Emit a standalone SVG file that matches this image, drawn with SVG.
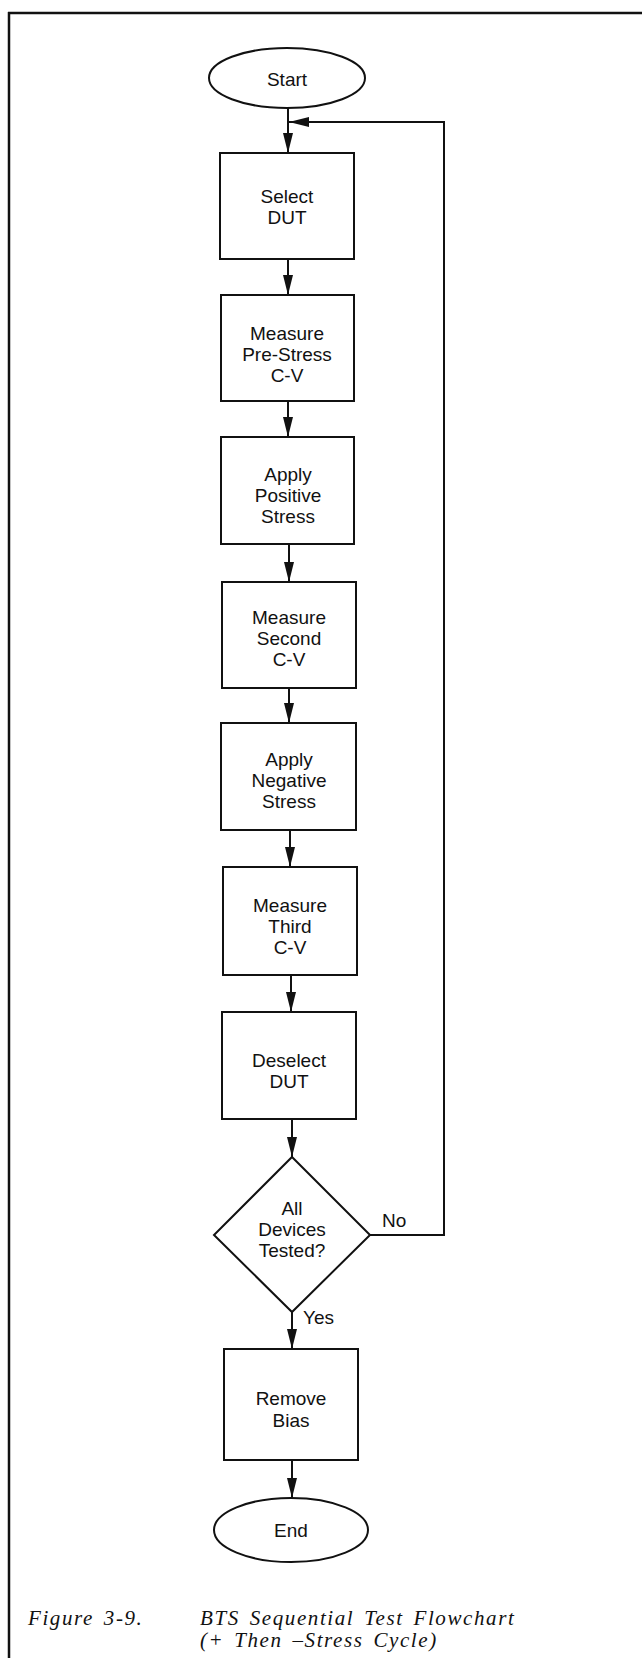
<svg xmlns="http://www.w3.org/2000/svg" width="642" height="1658" viewBox="0 0 642 1658">
<style>
.box{fill:#fff;stroke:#111;stroke-width:2}
.t{font-family:"Liberation Sans",Arial,sans-serif;font-size:19px;fill:#111;text-anchor:middle}
.lbl{font-family:"Liberation Sans",Arial,sans-serif;font-size:19px;fill:#111}
.cap{font-family:"Liberation Serif","Times New Roman",serif;font-style:italic;font-size:21px;fill:#111;letter-spacing:1.6px;word-spacing:3px}
.c{fill:none;stroke:#111;stroke-width:2}
.frame{fill:none;stroke:#111;stroke-width:2.5}
</style>
<defs>
<marker id="ah" viewBox="0 0 20 10" refX="20" refY="5" markerWidth="20" markerHeight="10" markerUnits="userSpaceOnUse" orient="auto">
<path d="M0,0 L20,5 L0,10 z" fill="#111"/>
</marker>
</defs>
<rect width="642" height="1658" fill="#fff"/>
<g id="frame">
<path class="frame" d="M8,13 H642"/>
<path class="frame" d="M9,12 V1658"/>
</g>
<g id="connectors">
<path class="c" d="M288,108 V153" marker-end="url(#ah)"/>
<path class="c" d="M288,259 V295" marker-end="url(#ah)"/>
<path class="c" d="M288,401 V437" marker-end="url(#ah)"/>
<path class="c" d="M289,544 V582" marker-end="url(#ah)"/>
<path class="c" d="M289,688 V723" marker-end="url(#ah)"/>
<path class="c" d="M290,830 V867" marker-end="url(#ah)"/>
<path class="c" d="M291,975 V1012" marker-end="url(#ah)"/>
<path class="c" d="M292,1119 V1157" marker-end="url(#ah)"/>
<path class="c" d="M292,1312 V1349" marker-end="url(#ah)"/>
<path class="c" d="M292,1460 V1498" marker-end="url(#ah)"/>
<path class="c" d="M370,1235 H444 V122 H289" marker-end="url(#ah)" stroke-width="1.8"/>
<text class="lbl" x="382" y="1227">No</text>
<text class="lbl" x="303" y="1324">Yes</text>
</g>
<g id="start">
<ellipse class="box" cx="287" cy="78" rx="78" ry="30"/>
<text class="t" x="287" y="86">Start</text>
</g>
<g id="select">
<rect class="box" x="220" y="153" width="134" height="106"/>
<text class="t" x="287" y="203">Select</text>
<text class="t" x="287" y="224">DUT</text>
</g>
<g id="measure-pre">
<rect class="box" x="221" y="295" width="133" height="106"/>
<text class="t" x="287" y="340">Measure</text>
<text class="t" x="287" y="361">Pre-Stress</text>
<text class="t" x="287" y="382">C-V</text>
</g>
<g id="apply-pos">
<rect class="box" x="221" y="437" width="133" height="107"/>
<text class="t" x="288" y="481">Apply</text>
<text class="t" x="288" y="502">Positive</text>
<text class="t" x="288" y="523">Stress</text>
</g>
<g id="measure-second">
<rect class="box" x="222" y="582" width="134" height="106"/>
<text class="t" x="289" y="624">Measure</text>
<text class="t" x="289" y="645">Second</text>
<text class="t" x="289" y="666">C-V</text>
</g>
<g id="apply-neg">
<rect class="box" x="221" y="723" width="135" height="107"/>
<text class="t" x="289" y="766">Apply</text>
<text class="t" x="289" y="787">Negative</text>
<text class="t" x="289" y="808">Stress</text>
</g>
<g id="measure-third">
<rect class="box" x="223" y="867" width="134" height="108"/>
<text class="t" x="290" y="912">Measure</text>
<text class="t" x="290" y="933">Third</text>
<text class="t" x="290" y="954">C-V</text>
</g>
<g id="deselect">
<rect class="box" x="222" y="1012" width="134" height="107"/>
<text class="t" x="289" y="1067">Deselect</text>
<text class="t" x="289" y="1088">DUT</text>
</g>
<g id="decision">
<path class="box" d="M292,1157 L370,1235 L292,1312 L214,1235 Z"/>
<text class="t" x="292" y="1215">All</text>
<text class="t" x="292" y="1236">Devices</text>
<text class="t" x="292" y="1257">Tested?</text>
</g>
<g id="remove-bias">
<rect class="box" x="224" y="1349" width="134" height="111"/>
<text class="t" x="291" y="1405">Remove</text>
<text class="t" x="291" y="1427">Bias</text>
</g>
<g id="end">
<ellipse class="box" cx="291" cy="1530" rx="77" ry="32"/>
<text class="t" x="291" y="1537">End</text>
</g>
<g id="caption">
<text class="cap" x="28" y="1625">Figure 3-9.</text>
<text class="cap" x="200" y="1625">BTS Sequential Test Flowchart</text>
<text class="cap" x="200" y="1647">(+ Then –Stress Cycle)</text>
</g>
</svg>
